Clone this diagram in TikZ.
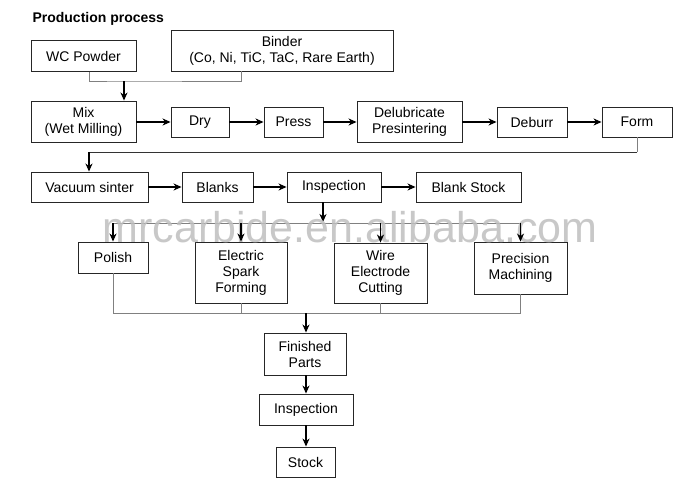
\documentclass[tikz,border=0pt]{standalone}
\usepackage{fontspec}
\setmainfont{Liberation Sans}
\usetikzlibrary{arrows.meta}
\tikzset{
  box/.style={draw=black!85, line width=0.9pt, rectangle, inner sep=0pt, align=center,
    font=\fontsize{14}{16}\selectfont},
  gl/.style={draw=black!50, line width=0.9pt},
  dl/.style={draw=black!80, line width=0.9pt},
  arr/.style={draw=black, line width=1.3pt, -{Stealth[length=8pt,width=7pt,inset=2.5pt]}},
}
\begin{document}
\begin{tikzpicture}[x=1pt,y=-1pt]
\useasboundingbox (0,0) rectangle (700,488);
\fill[white] (0,0) rectangle (700,488);
\node[anchor=base west, font=\bfseries\fontsize{14}{16}\selectfont] (title) at (29,22) {Production process};

% row 1
\node[box, minimum width=105pt, minimum height=31pt] (wc) at (83.5,56) {WC Powder};
\node[box, minimum width=222pt, minimum height=41pt] (binder) at (282,50.5) {Binder\\(Co, Ni, TiC, TaC, Rare Earth)};
% row 2
\node[box, minimum width=105pt, minimum height=41pt] (mix) at (83.5,121.5) {Mix\\(Wet Milling)};
\node[box, minimum width=58pt, minimum height=30pt] (dry) at (200,122) {Dry};
\node[box, minimum width=59pt, minimum height=30pt] (press) at (293.5,122) {Press};
\node[box, minimum width=105pt, minimum height=41pt] (delub) at (409.5,121.5) {Delubricate\\Presintering};
\node[box, minimum width=70pt, minimum height=30pt] (deburr) at (532,122) {Deburr};
\node[box, minimum width=70pt, minimum height=30pt] (form) at (637,122) {Form};
% row 3
\node[box, minimum width=117pt, minimum height=30pt] (vac) at (89.5,187) {Vacuum sinter};
\node[box, minimum width=71pt, minimum height=30pt] (blanks) at (217.5,187) {Blanks};
\node[box, minimum width=94pt, minimum height=30pt] (insp) at (334,187) {Inspection};
\node[box, minimum width=105pt, minimum height=30pt] (bstock) at (468.5,187) {Blank Stock};
% row 4
\node[box, minimum width=70pt, minimum height=31pt] (polish) at (113,257.5) {Polish};
\node[box, minimum width=92pt, minimum height=61pt] (esf) at (241,272.5) {Electric\\Spark\\Forming};
\node[box, minimum width=93pt, minimum height=60pt] (wec) at (380.5,273) {Wire\\Electrode\\Cutting};
\node[box, minimum width=93pt, minimum height=52pt] (pm) at (520.5,268) {Precision\\Machining};
% bottom
\node[box, minimum width=82pt, minimum height=42pt] (fin) at (305,354) {Finished\\Parts};
\node[box, minimum width=94pt, minimum height=31pt] (insp2) at (306,409.5) {Inspection};
\node[box, minimum width=59pt, minimum height=30pt] (stock) at (305.5,462) {Stock};

\coordinate (j1) at (124,81);
\coordinate (j2) at (89,152);
\coordinate (j3) at (323,223);
\coordinate (j4) at (306,313);

% merge into Mix
\draw[gl] ([xshift=5.5pt]wc.south) |- (j1) -| ([xshift=-41pt]binder.south);
\draw[arr] (j1) -- (j1 |- mix.north);
% row 2 arrows
\draw[arr] (mix.east |- dry.west) -- (dry.west);
\draw[arr] (dry) -- (press);
\draw[arr] (press.east) -- (press.east -| delub.west);
\draw[arr] (delub.east |- deburr.west) -- (deburr.west);
\draw[arr] (deburr) -- (form);
% feedback
\draw[gl] (form.south) -- (form.south |- j2);
\draw[dl] (form.south |- j2) -- (j2);
\draw[arr] (j2) -- (j2 |- vac.north);
% row 3
\draw[arr] (vac) -- (blanks);
\draw[arr] (blanks) -- (insp);
\draw[arr] (insp) -- (bstock);
\draw[arr] (j3 |- insp.south) -- ([yshift=1pt]j3);
% distribution
\draw[gl] (polish.north |- j3) -- (pm.north |- j3);
% merge
\draw[gl] (polish.south) -- (polish.south |- j4) -- (pm.south |- j4) -- (pm.south);
\draw[gl] (esf.south) -- (esf.south |- j4);
\draw[gl] (wec.south) -- (wec.south |- j4);

\node[font=\fontsize{43}{43}\selectfont, text=black!25, opacity=0.85, anchor=base] (wm) at (350,242) {mrcarbide.en.alibaba.com};

\draw[arr] (polish.north |- j3) -- (polish.north);
\draw[arr] (esf.north |- j3) -- (esf.north);
\draw[arr] (wec.north |- j3) -- (wec.north);
\draw[arr] (pm.north |- j3) -- (pm.north);
\draw[arr] (j4) -- (j4 |- fin.north);
\draw[arr] (fin.south -| insp2.north) -- (insp2.north);
\draw[arr] (insp2.south) -- (insp2.south |- stock.north);
\end{tikzpicture}
\end{document}
